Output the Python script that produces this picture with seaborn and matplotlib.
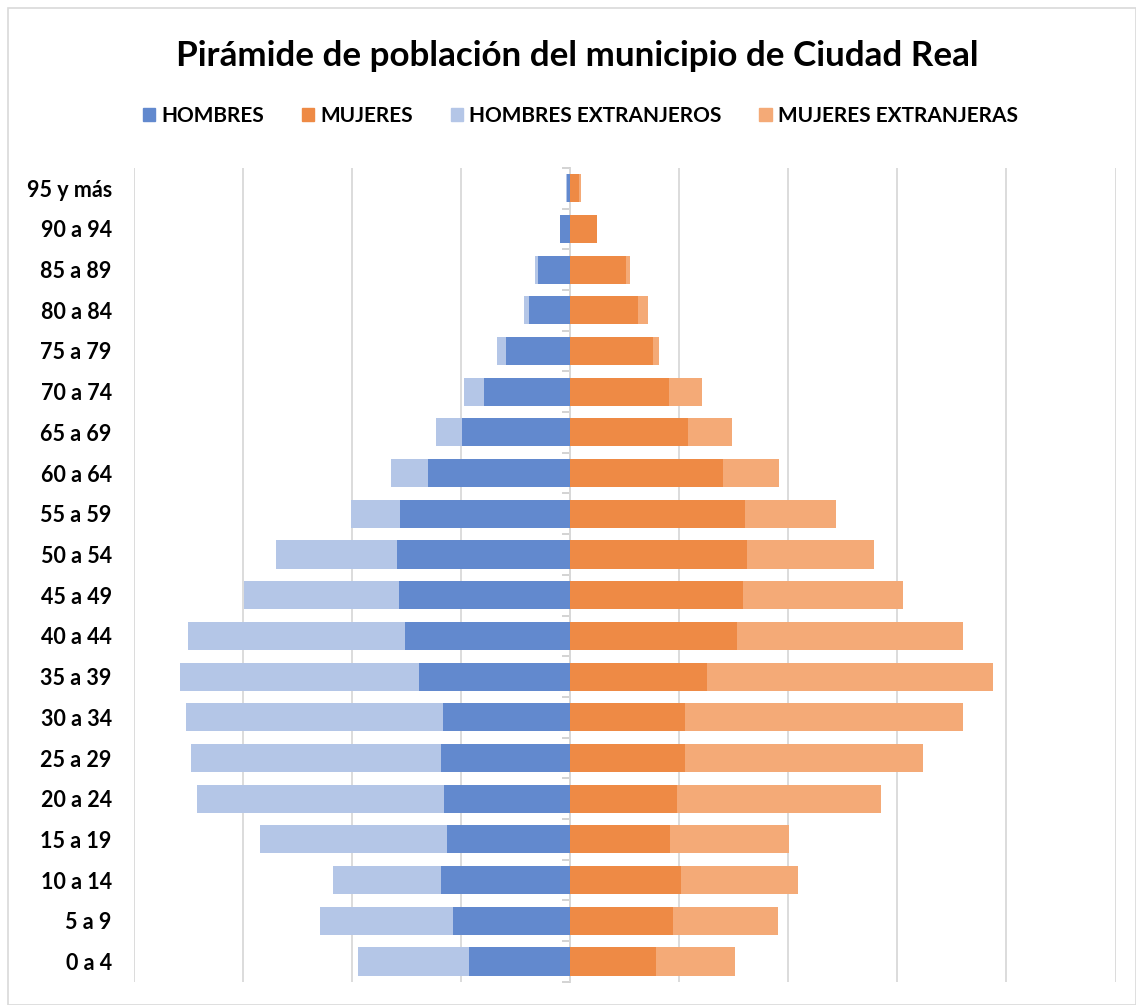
import numpy as np
import pandas as pd
import seaborn as sns
import matplotlib.pyplot as plt
from matplotlib.patches import Patch, Rectangle

# Datos (escala de la rejilla: 1000 por línea)
grupos = ["95 y más", "90 a 94", "85 a 89", "80 a 84", "75 a 79", "70 a 74",
          "65 a 69", "60 a 64", "55 a 59", "50 a 54", "45 a 49", "40 a 44",
          "35 a 39", "30 a 34", "25 a 29", "20 a 24", "15 a 19", "10 a 14",
          "5 a 9", "0 a 4"]
hombres = [32, 92, 296, 378, 589, 788, 989, 1300, 1557, 1593, 1566, 1520,
           1383, 1163, 1181, 1154, 1126, 1181, 1071, 925]
hombres_ext = [8, 0, 25, 43, 86, 190, 238, 348, 458, 1108, 1429, 1987,
               2198, 2363, 2299, 2271, 1722, 998, 1223, 1026]
mujeres = [82, 245, 513, 623, 760, 907, 1081, 1401, 1603, 1621, 1584, 1529,
           1255, 1053, 1053, 980, 916, 1016, 943, 788]
mujeres_ext = [16, 0, 39, 92, 52, 302, 403, 513, 833, 1163, 1465, 2070,
               2619, 2546, 2179, 1868, 1090, 1071, 958, 721]

df = pd.DataFrame({"grupo": grupos, "h": hombres, "he": hombres_ext,
                   "m": mujeres, "me": mujeres_ext})
df["h_tot"] = -(df["h"] + df["he"])
df["h_neg"] = -df["h"]
df["m_tot"] = df["m"] + df["me"]

c_h = "#6289CE"
c_m = "#EE8A45"
c_he = "#B4C6E7"
c_me = "#F4AA77"

sns.set_style("white")
plt.rcParams["font.family"] = ["Lato", "DejaVu Sans"]
plt.rcParams["text.color"] = "black"
plt.rcParams["ytick.color"] = "black"

fig = plt.figure(figsize=(11.36, 10.05), dpi=100)
ax = fig.add_axes([0.118, 0.023, 0.864, 0.81])

w = 0.69
kw = dict(width=w, orient="h", ax=ax, saturation=1, linewidth=0)
sns.barplot(data=df, y="grupo", x="h_tot", color=c_he, zorder=2, **kw)
sns.barplot(data=df, y="grupo", x="h_neg", color=c_h, zorder=3, **kw)
sns.barplot(data=df, y="grupo", x="m_tot", color=c_me, zorder=2, **kw)
sns.barplot(data=df, y="grupo", x="m", color=c_m, zorder=3, **kw)

ax.set_xlim(-4000, 5000)
ax.set_ylim(len(grupos) - 0.5, -0.5)
ax.set_xticks(np.arange(-4000, 5001, 1000))
ax.set_xticklabels([])
ax.tick_params(axis="x", length=0)
ax.grid(axis="x", color="#D9D9D9", linewidth=1.3, zorder=0)
ax.set_axisbelow(True)
ax.set_xlabel("")
ax.set_ylabel("")
for s in ax.spines.values():
    s.set_visible(False)
ax.tick_params(axis="y", length=0, pad=16)
for lab in ax.get_yticklabels():
    lab.set_fontweight("bold")
    lab.set_fontsize(15.5)
    lab.set_color("black")

# eje central con marcas entre grupos
sec = ax.secondary_yaxis(4000 / 9000)
sec.set_ticks(np.arange(-0.5, len(grupos), 1.0))
sec.set_yticklabels([])
sec.tick_params(length=6, color="#D0D0D0", width=1.3)
sec.spines["left"].set_color("#D0D0D0")
sec.spines["left"].set_linewidth(1.3)

fig.text(0.508, 0.944, "Pirámide de población del municipio de Ciudad Real",
         ha="center", va="center", fontsize=25.2, fontweight="bold", color="black")

handles = [Patch(color=c_h, label="HOMBRES"), Patch(color=c_m, label="MUJERES"),
           Patch(color=c_he, label="HOMBRES EXTRANJEROS"),
           Patch(color=c_me, label="MUJERES EXTRANJERAS")]
fig.legend(handles=handles, loc="center", bbox_to_anchor=(0.511, 0.885), ncol=4,
           frameon=False, prop={"weight": "bold", "size": 15},
           handlelength=0.6, handleheight=0.6, handletextpad=0.3, columnspacing=1.8)

fig.patches.append(Rectangle((0.007, 0.0), 0.993, 0.992, transform=fig.transFigure,
                             fill=False, edgecolor="#D9D9D9", linewidth=1.2))

fig.savefig("out.png", dpi=100)
